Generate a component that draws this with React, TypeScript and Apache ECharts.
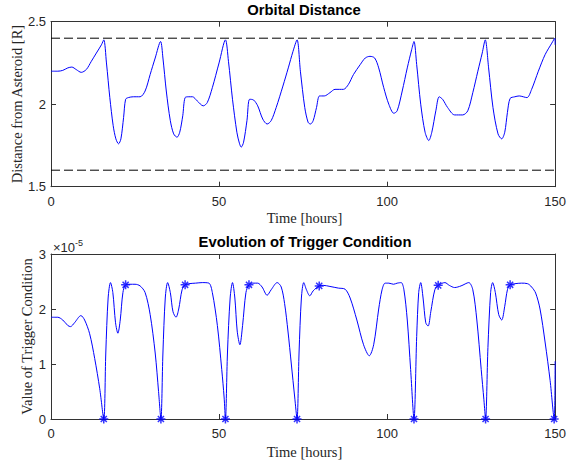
import React, { useEffect, useRef } from "react";
import * as echarts from "echarts";

// ---- Data ----
const xTicks = [0, 50, 100, 150];
const distTicks = [1.5, 2, 2.5];
const trigTicks = [0, 1, 2, 3];
const trigExponent = -5;
const distBounds = [2.4, 1.6];

const distTime = [
  0, 2, 3.5, 5, 6.2, 7.5, 9, 10.5, 12, 13.5, 15, 15.7, 16.5, 17.5, 18.5, 19.3, 20.1, 20.8, 21.6, 22.2,
  23, 24.5, 26.5, 28, 29.5, 31, 32.6, 33.3, 34.3, 35.5, 36.5, 37.5, 38.3, 39.2, 39.9, 41, 42.1, 43.5,
  45.3, 46.5, 48, 50, 51.9, 52.8, 54, 55.3, 56.1, 56.6, 57.3, 58.3, 59.1, 60.3, 61.5, 63, 64.3, 65.5,
  67, 69, 70.6, 72, 73.2, 74.2, 75.5, 76.5, 77.2, 78, 79, 79.9, 81.3, 83, 84.5, 87, 88.5, 90, 92, 93.5,
  94.9, 96.3, 97.5, 99, 100.5, 102, 103, 104.5, 106, 107.3, 108, 108.8, 110, 111.3, 112.4, 113.3, 114.5,
  115.5, 116.5, 118, 120.1, 122.5, 124, 125.5, 127, 128.3, 129.2, 130.2, 131.5, 133, 134.1, 135, 135.8,
  136.6, 138, 139.3, 141.6, 143, 145, 147, 149, 149.9, 150,
];
const distValue = [
  2.2, 2.2, 2.205, 2.22, 2.225, 2.21, 2.193, 2.21, 2.26, 2.31, 2.36, 2.39, 2.25, 2.04, 1.87, 1.79, 1.76, 1.79, 1.92, 2.03,
  2.04, 2.045, 2.045, 2.08, 2.18, 2.28, 2.38, 2.28, 2.08, 1.9, 1.82, 1.8, 1.83, 1.93, 2.04, 2.045, 2.045, 2.02,
  1.99, 2.01, 2.1, 2.25, 2.39, 2.26, 2.03, 1.83, 1.76, 1.74, 1.77, 1.9, 2.03, 2.025, 1.99, 1.91, 1.88, 1.9,
  1.98, 2.11, 2.22, 2.32, 2.39, 2.2, 1.98, 1.89, 1.88, 1.9, 1.98, 2.05, 2.05, 2.07, 2.09, 2.09, 2.12, 2.18, 2.24, 2.28,
  2.29, 2.28, 2.22, 2.1, 2.0, 1.945, 1.96, 2.08, 2.22, 2.33, 2.38, 2.24, 2.0, 1.83, 1.78, 1.83, 1.96,
  2.045, 2.03, 1.98, 1.935, 1.935, 1.96, 2.07, 2.2, 2.31, 2.39, 2.22, 1.98, 1.82, 1.79, 1.83, 1.95,
  2.035, 2.045, 2.05, 2.04, 2.09, 2.2, 2.3, 2.37, 2.4, 2.36,
];

const trigTime = [
  0, 2, 3.5, 5, 5.8, 7, 8.9, 10, 11.5, 13, 14.5, 15.7, 16.3, 17, 17.7, 18.4, 19.2, 19.9, 20.6, 21.4, 22.2,
  23.5, 25, 26.5, 28, 29.5, 31, 32, 32.7, 33.3, 34, 34.7, 35.5, 36.3, 37.2, 38, 39, 39.9, 41, 43, 45, 47,
  48, 49.5, 50.8, 51.5, 51.9, 52.5, 53.3, 54, 54.7, 55.4, 56.2, 57, 58, 58.9, 60, 61.5, 62.8, 64.3, 65.5,
  67.3, 68.5, 69.5, 70.5, 71.5, 72.5, 73.2, 73.8, 74.5, 75.2, 76, 77, 78, 79.8, 81, 83, 85.5, 87.5, 89, 91,
  93, 94.7, 96, 97.5, 98.5, 99.4, 100.5, 101.9, 103, 104.2, 105, 106, 107, 108, 108.8, 109.4, 110, 110.7,
  111.5, 112.2, 113, 114.2, 115.2, 117.2, 118.5, 120.1, 122, 124.3, 125.5, 126.7, 128, 128.8, 129.3, 130,
  130.8, 131.4, 132.2, 133.2, 134.1, 135, 135.8, 136.6, 138, 140, 141.8, 143, 144.2, 145.5, 147, 148.5,
  149.7, 150,
];
const trigValue = [
  1.85, 1.85, 1.8, 1.7, 1.68, 1.75, 1.88, 1.8, 1.55, 1.1, 0.55, 0, 1.2, 2.2, 2.48, 2.3, 1.75, 1.56, 1.8, 2.3, 2.44,
  2.45, 2.45, 2.42, 2.3, 1.9, 1.2, 0.5, 0, 1.2, 2.2, 2.48, 2.3, 1.95, 1.85, 2.0, 2.35, 2.44, 2.46, 2.47, 2.48, 2.47,
  2.3, 1.7, 0.9, 0.4, 0, 1.2, 2.2, 2.48, 2.2, 1.6, 1.35, 1.7, 2.3, 2.44, 2.47, 2.47, 2.4, 2.25, 2.35,
  2.48, 2.4, 2.1, 1.6, 1.0, 0.4, 0, 1.2, 2.2, 2.48, 2.35, 2.24, 2.33, 2.42, 2.43, 2.41, 2.38, 2.36, 2.2, 1.8,
  1.35, 1.15, 1.35, 2.0, 2.35, 2.47, 2.47, 2.45, 2.47, 2.48, 2.35, 1.8, 0.9, 0, 1.5, 2.3, 2.48, 2.2,
  1.75, 1.69, 1.95, 2.35, 2.43, 2.48, 2.43, 2.39, 2.42, 2.48, 2.35, 1.8, 0.9, 0.35, 0, 1.3,
  2.3, 2.48, 2.3, 1.9, 1.8, 2.05, 2.35, 2.44, 2.46, 2.47, 2.46, 2.4, 2.29, 2.0, 1.4, 0.7,
  0, 1.05,
];

const zeroMarkTime = [15.7, 32.7, 51.9, 73.2, 108, 129.3, 149.7];
const zeroMarkValue = [0, 0, 0, 0, 0, 0, 0];
const peakMarkTime = [22.2, 39.9, 58.9, 79.8, 115.2, 136.6];
const peakMarkValue = [2.44, 2.44, 2.44, 2.42, 2.43, 2.44];

const titles = ["Orbital Distance", "Evolution of Trigger Condition"];
const xLabel = "Time [hours]";
const yLabels = ["Distance from Asteroid [R]", "Value of Trigger Condition"];

const zip = (a: number[], b: number[]) => a.map((v, i) => [v, b[i]]);

const AXIS_COLOR = "#333333";
const BLUE = "#0000ff";
const ASTERISK = "path://M5,0L5,10M0,5L10,5M1.6,1.6L8.4,8.4M8.4,1.6L1.6,8.4";

export default function App() {
  const ref = useRef<HTMLDivElement>(null);
  useEffect(() => {
    document.body.style.margin = "0";
    if (!ref.current) return;
    const chart = echarts.init(ref.current, null, { renderer: "svg" });

    const grids = [
      { left: 51, right: 11, top: 21.7, height: 165 },
      { left: 51, right: 11, top: 254, height: 165 },
    ];

    const mkX = (gridIndex: number, pos: "bottom" | "top") => ({
      type: "value",
      gridIndex,
      position: pos,
      min: 0,
      max: 150,
      interval: 50,
      axisLine: { show: true, onZero: false, lineStyle: { color: AXIS_COLOR, width: 1 } },
      axisTick: { show: true, inside: true, length: 5, lineStyle: { color: AXIS_COLOR } },
      axisLabel: {
        show: pos === "bottom",
        margin: 8,
        color: "#262626",
        fontFamily: "Liberation Sans, Arial, sans-serif",
        fontSize: 13,
        formatter: (v: number) => (xTicks.includes(v) ? String(v) : ""),
      },
      splitLine: { show: false },
    });

    const mkY = (gridIndex: number, pos: "left" | "right", min: number, max: number, interval: number, ticks: number[]) => ({
      type: "value",
      gridIndex,
      position: pos,
      min,
      max,
      interval,
      axisLine: { show: true, onZero: false, lineStyle: { color: AXIS_COLOR, width: 1 } },
      axisTick: { show: true, inside: true, length: 5, lineStyle: { color: AXIS_COLOR } },
      axisLabel: {
        show: pos === "left",
        margin: 5,
        color: "#262626",
        fontFamily: "Liberation Sans, Arial, sans-serif",
        fontSize: 13,
        formatter: (v: number) => (ticks.some((t) => Math.abs(t - v) < 1e-9) ? String(v) : ""),
      },
      splitLine: { show: false },
    });

    const serifFont = "Liberation Serif, Times New Roman, serif";
    const plotCenterX = 51 + (569 - 11 - 51) / 2;

    chart.setOption({
      animation: false,
      backgroundColor: "#ffffff",
      grid: grids,
      xAxis: [mkX(0, "bottom"), mkX(0, "top"), mkX(1, "bottom"), mkX(1, "top")],
      yAxis: [
        mkY(0, "left", 1.5, 2.5, 0.5, distTicks),
        mkY(0, "right", 1.5, 2.5, 0.5, distTicks),
        mkY(1, "left", 0, 3, 1, trigTicks),
        mkY(1, "right", 0, 3, 1, trigTicks),
      ],
      series: [
        {
          type: "line",
          xAxisIndex: 0,
          yAxisIndex: 0,
          data: [
            [0, distBounds[0]],
            [150, distBounds[0]],
          ],
          showSymbol: false,
          lineStyle: { color: "#000000", width: 1, type: [9, 4] },
        },
        {
          type: "line",
          xAxisIndex: 0,
          yAxisIndex: 0,
          data: [
            [0, distBounds[1]],
            [150, distBounds[1]],
          ],
          showSymbol: false,
          lineStyle: { color: "#000000", width: 1, type: [9, 4] },
        },
        {
          type: "line",
          xAxisIndex: 0,
          yAxisIndex: 0,
          data: zip(distTime, distValue),
          showSymbol: false,
          smooth: 0.3,
          lineStyle: { color: BLUE, width: 1 },
        },
        {
          type: "line",
          xAxisIndex: 2,
          yAxisIndex: 2,
          data: zip(trigTime, trigValue),
          showSymbol: false,
          smooth: 0.3,
          lineStyle: { color: BLUE, width: 1 },
        },
        {
          type: "scatter",
          xAxisIndex: 2,
          yAxisIndex: 2,
          clip: false,
          data: zip(zeroMarkTime, zeroMarkValue).concat(zip(peakMarkTime, peakMarkValue)),
          symbol: ASTERISK,
          symbolSize: 9,
          itemStyle: { color: "rgba(0,0,0,0)", borderColor: BLUE, borderWidth: 1.5 },
          z: 5,
        },
      ],
      graphic: [
        {
          type: "text",
          x: 304,
          y: 10,
          style: {
            text: titles[0],
            fontFamily: "Liberation Sans, Arial, sans-serif",
            fontWeight: "bold",
            fontSize: 14.8,
            fill: "#000",
            align: "center",
            verticalAlign: "middle",
          },
        },
        {
          type: "text",
          x: 305,
          y: 242,
          style: {
            text: titles[1],
            fontFamily: "Liberation Sans, Arial, sans-serif",
            fontWeight: "bold",
            fontSize: 14.8,
            fill: "#000",
            align: "center",
            verticalAlign: "middle",
          },
        },
        {
          type: "text",
          x: plotCenterX,
          y: 218,
          style: { text: xLabel, fontFamily: serifFont, fontSize: 14.5, fill: "#262626", align: "center", verticalAlign: "middle" },
        },
        {
          type: "text",
          x: plotCenterX,
          y: 452,
          style: { text: xLabel, fontFamily: serifFont, fontSize: 14.5, fill: "#262626", align: "center", verticalAlign: "middle" },
        },
        {
          type: "text",
          x: 17,
          y: 104,
          rotation: Math.PI / 2,
          style: { text: yLabels[0], fontFamily: serifFont, fontSize: 14.5, fill: "#262626", align: "center", verticalAlign: "middle" },
        },
        {
          type: "text",
          x: 27,
          y: 336.5,
          rotation: Math.PI / 2,
          style: { text: yLabels[1], fontFamily: serifFont, fontSize: 14.5, fill: "#262626", align: "center", verticalAlign: "middle" },
        },
        {
          type: "text",
          x: 53,
          y: 247,
          style: {
            text: "{a|×10}{b|" + String(trigExponent) + "}",
            verticalAlign: "middle",
            rich: {
              a: { fontFamily: "Liberation Sans, Arial, sans-serif", fontSize: 13, fill: "#262626", color: "#262626" },
              b: {
                fontFamily: "Liberation Sans, Arial, sans-serif",
                fontSize: 9,
                fill: "#262626",
                color: "#262626",
                verticalAlign: "top",
                padding: [0, 0, 8, 0],
              },
            },
          },
        },
      ],
    });
    return () => chart.dispose();
  }, []);
  return <div ref={ref} style={{ width: 569, height: 468 }} />;
}
